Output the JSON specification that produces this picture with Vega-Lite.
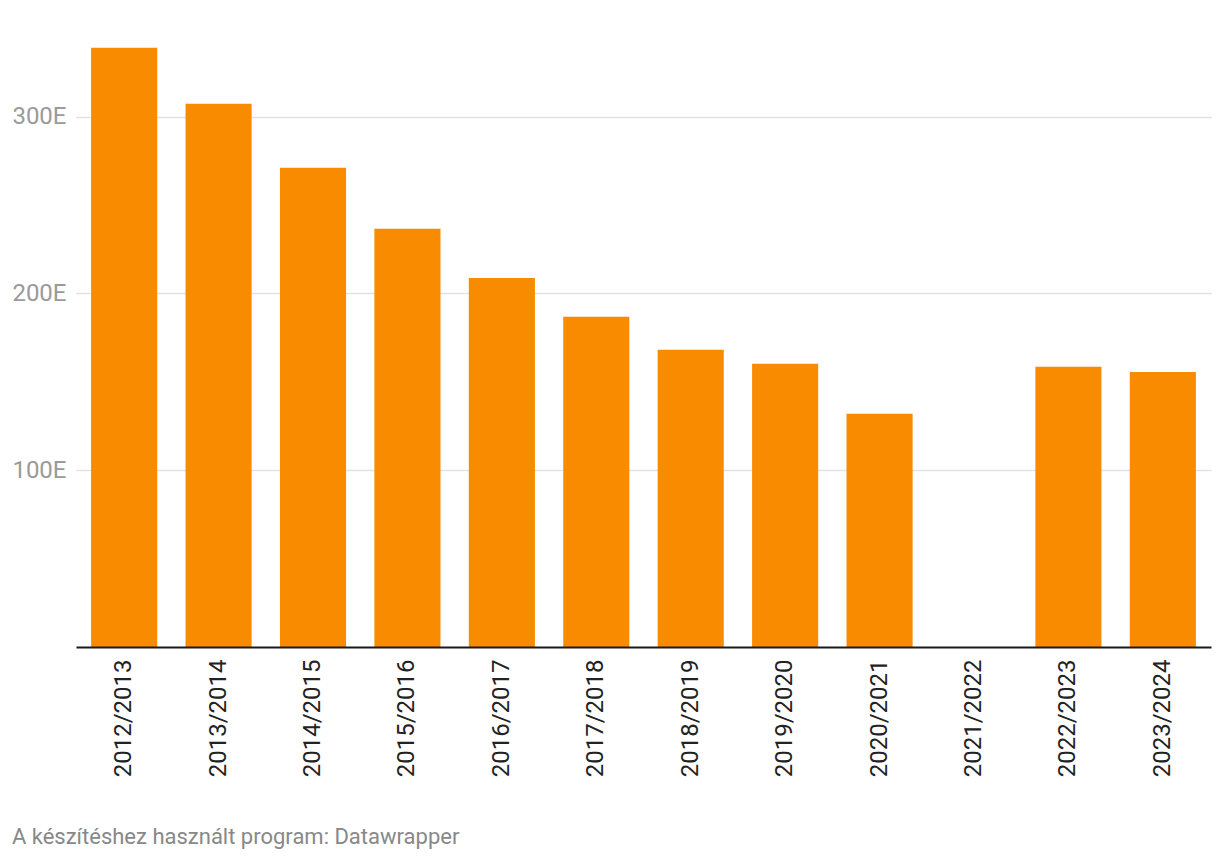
{
  "$schema": "https://vega.github.io/schema/vega-lite/v6.json",
  "width": 1135,
  "height": 601,
  "autosize": {"type": "none"},
  "padding": {"left": 76, "top": 46, "right": 9, "bottom": 215},
  "background": "#ffffff",
  "data": {
    "values": [
      {"tanev": "2012/2013", "ertek": 339},
      {"tanev": "2013/2014", "ertek": 307.3},
      {"tanev": "2014/2015", "ertek": 271.1},
      {"tanev": "2015/2016", "ertek": 236.6},
      {"tanev": "2016/2017", "ertek": 208.8},
      {"tanev": "2017/2018", "ertek": 186.8},
      {"tanev": "2018/2019", "ertek": 168.1},
      {"tanev": "2019/2020", "ertek": 160.2},
      {"tanev": "2020/2021", "ertek": 131.9},
      {"tanev": "2021/2022", "ertek": null},
      {"tanev": "2022/2023", "ertek": 158.5},
      {"tanev": "2023/2024", "ertek": 155.6}
    ]
  },
  "title": {
    "text": "A készítéshez használt program: Datawrapper",
    "orient": "bottom",
    "anchor": "start",
    "frame": "bounds",
    "offset": 50,
    "font": "Roboto",
    "fontSize": 22,
    "fontWeight": "normal",
    "color": "#888888"
  },
  "mark": {"type": "bar", "color": "#f98b00"},
  "encoding": {
    "x": {
      "field": "tanev",
      "type": "nominal",
      "sort": null,
      "scale": {
        "domain": ["2012/2013", "2013/2014", "2014/2015", "2015/2016", "2016/2017", "2017/2018", "2018/2019", "2019/2020", "2020/2021", "2021/2022", "2022/2023", "2023/2024"],
        "paddingInner": 0.3,
        "paddingOuter": 0.16
      },
      "axis": {
        "title": null,
        "labelAngle": -90,
        "labelFont": "Roboto",
        "labelFontSize": 24,
        "labelColor": "#222222",
        "labelPadding": 12,
        "ticks": false,
        "domainColor": "#1a1a1a",
        "domainWidth": 2,
        "zindex": 1
      }
    },
    "y": {
      "field": "ertek",
      "type": "quantitative",
      "scale": {"domain": [0, 340], "nice": false},
      "axis": {
        "title": null,
        "values": [100, 200, 300],
        "labelExpr": "datum.value + 'E'",
        "labelFont": "Roboto",
        "labelFontSize": 24,
        "labelColor": "#9a9a9a",
        "labelPadding": 10,
        "ticks": false,
        "domain": false,
        "grid": true,
        "gridColor": "#e2e2e2",
        "gridWidth": 1.5
      }
    }
  },
  "config": {"view": {"stroke": null}}
}
